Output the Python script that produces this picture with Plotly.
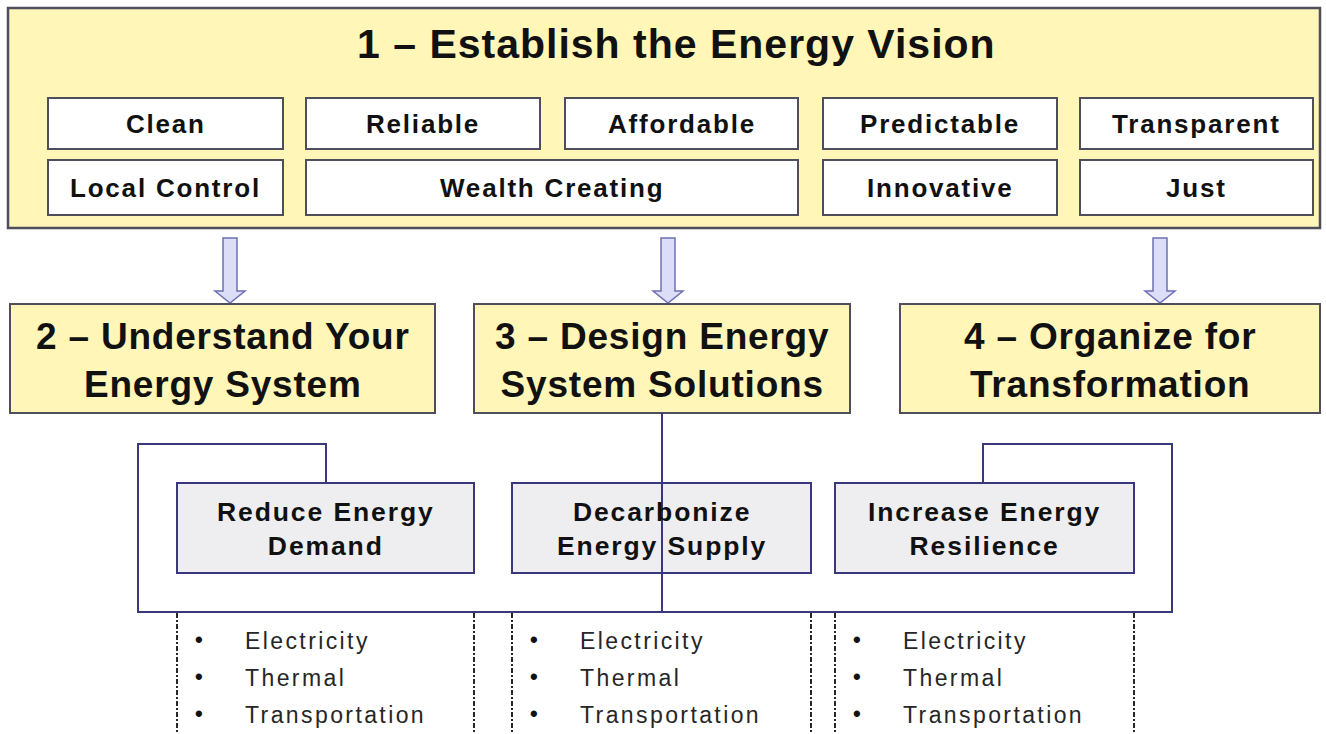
import plotly.graph_objects as go

# ---------------- content ----------------
vision_title = "1 – Establish the Energy Vision"
vision_row1 = ["Clean", "Reliable", "Affordable", "Predictable", "Transparent"]
vision_row2 = ["Local Control", "Wealth Creating", "Innovative", "Just"]
step_titles = [
    ["2 – Understand Your", "Energy System"],
    ["3 – Design Energy", "System Solutions"],
    ["4 – Organize for", "Transformation"],
]
strategy_titles = [
    ["Reduce Energy", "Demand"],
    ["Decarbonize", "Energy Supply"],
    ["Increase Energy", "Resilience"],
]
sector_items = ["Electricity", "Thermal", "Transportation"]

# ---------------- geometry (pixels, y down) ----------------
W, H = 1326, 734
top_box = (8, 8, 1320, 228)
title_pos = (676, 44)
row1_x = [(48, 283), (306, 540), (565, 798), (823, 1057), (1080, 1313)]
row1_y = (98, 149)
row2_x = [(48, 283), (306, 798), (823, 1057), (1080, 1313)]
row2_y = (160, 215)
arrow_x = [230, 668, 1160]
arrow_y = (238, 291, 303)
step_x = [(10, 435), (474, 850), (900, 1320)]
step_y = (304, 413)
sub_x = [(177, 474), (512, 811), (835, 1134)]
sub_y = (483, 573)
frame_y_top, frame_y_bot = 444, 612
frame_left, frame_right = 138, 1172
conn_left, conn_right, conn_mid = 326, 983, 662
list_y = [641, 678, 715]

YELLOW = "#FFF6B8"
BOX_LINE = "#4E4E5C"
NAVY = "#38387A"
SUB_FILL = "#EEEEF1"
TXT = "#111111"
FONT = "Liberation Sans, Arial, sans-serif"


def spaced(lines, ls):
    if isinstance(lines, str):
        lines = [lines]
    return "<br>".join(f'<span style="letter-spacing:{ls}px">{l}</span>' for l in lines)


shapes = []
ann = []


def rect(x0, y0, x1, y1, fill, line, width=2):
    shapes.append(dict(type="rect", xref="x", yref="y", x0=x0, y0=y0, x1=x1, y1=y1,
                       fillcolor=fill, line=dict(color=line, width=width)))


def text(x, y, t, size, bold=True, color=TXT, xanchor="center"):
    ann.append(dict(x=x, y=y, xref="x", yref="y", text=t, showarrow=False,
                    xanchor=xanchor, yanchor="middle", align="center",
                    font=dict(family=FONT, size=size, color=color,
                              weight="bold" if bold else "normal")))


# top vision box
rect(*top_box, YELLOW, BOX_LINE, 2.5)
text(title_pos[0], title_pos[1], spaced(vision_title, 1), 41)
for (x0, x1), lab in zip(row1_x, vision_row1):
    rect(x0, row1_y[0], x1, row1_y[1], "white", BOX_LINE)
    text((x0 + x1) / 2, (row1_y[0] + row1_y[1]) / 2, spaced(lab, 1.8), 26)
for (x0, x1), lab in zip(row2_x, vision_row2):
    rect(x0, row2_y[0], x1, row2_y[1], "white", BOX_LINE)
    text((x0 + x1) / 2, (row2_y[0] + row2_y[1]) / 2, spaced(lab, 1.8), 26)

# arrows
for ax in arrow_x:
    t, b, tip = arrow_y
    path = (f"M {ax-7},{t} L {ax+7},{t} L {ax+7},{b} L {ax+15},{b} L {ax},{tip} "
            f"L {ax-15},{b} L {ax-7},{b} Z")
    shapes.append(dict(type="path", xref="x", yref="y", path=path,
                       fillcolor="#DCDDF6", line=dict(color="#6D70B4", width=1.5)))

# step boxes
for (x0, x1), lines in zip(step_x, step_titles):
    rect(x0, step_y[0], x1, step_y[1], YELLOW, BOX_LINE)
    text((x0 + x1) / 2, (step_y[0] + step_y[1]) / 2 + 2, spaced(lines, 0.8), 37)

# frame connector
frame = (f"M {conn_left},{sub_y[0]} L {conn_left},{frame_y_top} L {frame_left},{frame_y_top} "
         f"L {frame_left},{frame_y_bot} L {frame_right},{frame_y_bot} L {frame_right},{frame_y_top} "
         f"L {conn_right},{frame_y_top} L {conn_right},{sub_y[0]}")
shapes.append(dict(type="path", xref="x", yref="y", path=frame,
                   line=dict(color=NAVY, width=2)))

# strategy boxes
for (x0, x1), lines in zip(sub_x, strategy_titles):
    rect(x0, sub_y[0], x1, sub_y[1], SUB_FILL, NAVY)
    text((x0 + x1) / 2, (sub_y[0] + sub_y[1]) / 2 + 1, spaced(lines, 1.9), 26.5)

# central connector line
shapes.append(dict(type="line", xref="x", yref="y", x0=conn_mid, x1=conn_mid,
                   y0=step_y[1], y1=frame_y_bot, line=dict(color=NAVY, width=2)))

# dotted columns + lists
for (x0, x1) in sub_x:
    for xx in (x0, x1):
        shapes.append(dict(type="line", xref="x", yref="y", x0=xx, x1=xx,
                           y0=frame_y_bot + 1, y1=H,
                           line=dict(color="#111111", width=1.8, dash="5px,2px,2px,2px")))
    for yy, item in zip(list_y, sector_items):
        text(x0 + 22, yy - 2, "•", 22, bold=True, color="#111111")
        text(x0 + 66, yy, spaced(item, 2.4), 23, bold=False, color="#262626", xanchor="left")

fig = go.Figure()
fig.update_layout(
    width=W, height=H, margin=dict(l=0, r=0, t=0, b=0),
    paper_bgcolor="white", plot_bgcolor="white",
    xaxis=dict(range=[0, W], visible=False, fixedrange=True),
    yaxis=dict(range=[H, 0], visible=False, fixedrange=True),
    shapes=shapes, annotations=ann, showlegend=False,
)
fig.write_html("out.html", config={"displayModeBar": False},
               post_script="document.body.style.margin='0';")
